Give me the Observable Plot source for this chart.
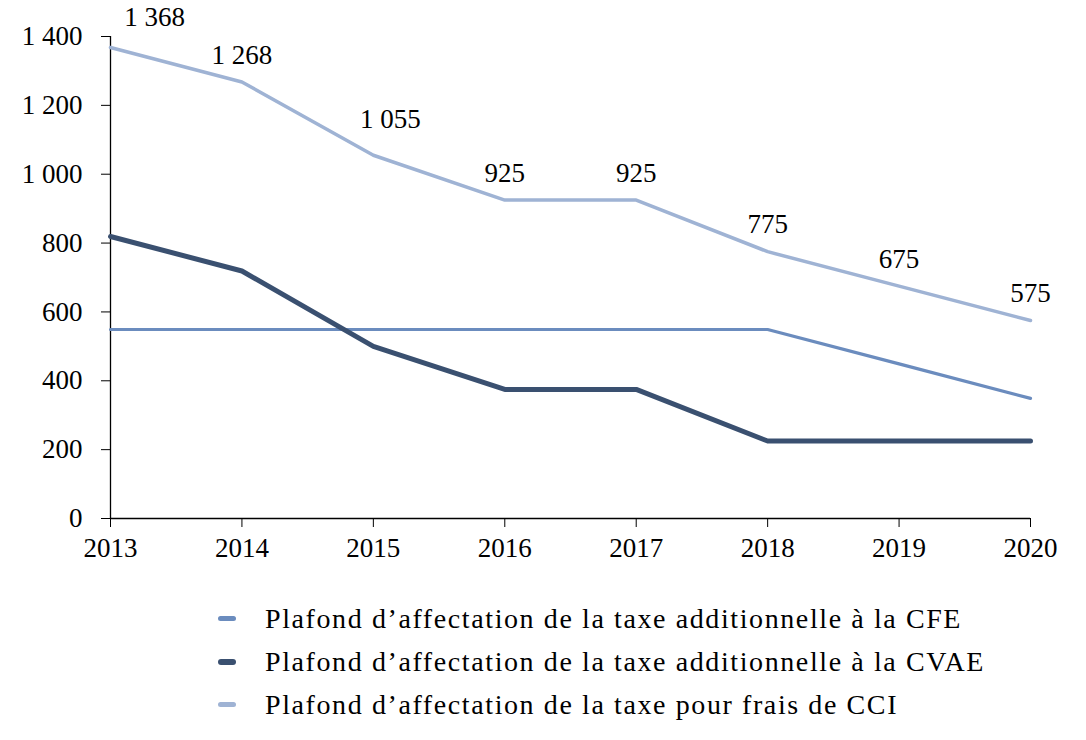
<!DOCTYPE html>
<html>
<head>
<meta charset="utf-8">
<script src="https://cdn.jsdelivr.net/npm/d3@7"></script>
<script src="https://cdn.jsdelivr.net/npm/@observablehq/plot@0.6"></script>
<style>
  body { margin: 0; background: #fff; font-family: "Liberation Serif", serif; }
  #legend { margin-left: 218px; margin-top: 17px; font-size: 28px; letter-spacing: 1.6px; color: #000; }
  .row { display: flex; align-items: center; height: 43px; }
  .sw { width: 18px; height: 5px; border-radius: 3px; margin-right: 29px; flex: none; }
</style>
</head>
<body>
<div id="chart"></div>
<div id="legend"></div>
<script>
const years = [2013, 2014, 2015, 2016, 2017, 2018, 2019, 2020];
const cfe  = [549, 549, 549, 549, 549, 549, 449, 349];
const cvae = [819, 719, 500, 375, 375, 225, 225, 225];
const cci  = [1368, 1268, 1055, 925, 925, 775, 675, 575];
const seriesNames = [
  "Plafond d\u2019affectation de la taxe additionnelle \u00e0 la CFE",
  "Plafond d\u2019affectation de la taxe additionnelle \u00e0 la CVAE",
  "Plafond d\u2019affectation de la taxe pour frais de CCI"
];
const colors = ["#6b8cbe", "#3a5070", "#9fb3d4"];
const widths = [3.2, 5, 3.5];
const yTicks = [0, 200, 400, 600, 800, 1000, 1200, 1400];

const fr = d3.formatLocale({decimal: ",", thousands: " ", grouping: [3], currency: ["", " €"]});
const fmt = fr.format(",d");

const allSeries = [cfe, cvae, cci];
const data = [];
allSeries.forEach((vals, s) => years.forEach((yr, i) => data.push({year: yr, value: vals[i], series: seriesNames[s]})));
const labels = years.map((yr, i) => ({year: yr, value: cci[i], idx: i}));

const textOpts = {x: "year", y: "value", text: d => fmt(d.value), fontSize: 27, fill: "#000"};

const chart = Plot.plot({
  width: 1086,
  height: 580,
  marginLeft: 110,
  marginRight: 56,
  marginTop: 36,
  marginBottom: 62,
  style: {fontFamily: "Liberation Serif, serif", fontSize: "27px", color: "#000", background: "#fff"},
  x: {type: "linear", domain: [2013, 2020]},
  y: {domain: [0, 1400]},
  marks: [
    Plot.axisY({ticks: yTicks, tickFormat: fmt, tickSize: 9, tickPadding: 19, label: null, stroke: "#000", fontSize: 27}),
    Plot.axisX({ticks: years, tickFormat: d => String(d), tickSize: 9, tickPadding: 10, label: null, stroke: "#000", fontSize: 27}),
    Plot.ruleX([2013], {stroke: "#000", strokeWidth: 1.3}),
    Plot.ruleY([0], {stroke: "#000", strokeWidth: 1.3}),
    ...seriesNames.map((name, s) =>
      Plot.line(data.filter(d => d.series === name), {x: "year", y: "value", stroke: colors[s], strokeWidth: widths[s], strokeLinejoin: "round"})
    ),
    Plot.text(labels.filter(d => d.idx === 0), {...textOpts, dx: 44, dy: -30}),
    Plot.text(labels.filter(d => d.idx === 2), {...textOpts, dx: 17, dy: -36}),
    Plot.text(labels.filter(d => d.idx !== 0 && d.idx !== 2), {...textOpts, dy: -27})
  ]
});
document.getElementById("chart").appendChild(chart);

const legend = document.getElementById("legend");
seriesNames.forEach((name, s) => {
  const row = document.createElement("div");
  row.className = "row";
  const sw = document.createElement("div");
  sw.className = "sw";
  sw.style.background = colors[s];
  sw.style.height = (s === 1 ? 6 : 5) + "px";
  const t = document.createElement("span");
  t.textContent = name;
  row.appendChild(sw); row.appendChild(t);
  legend.appendChild(row);
});
</script>
</body>
</html>
